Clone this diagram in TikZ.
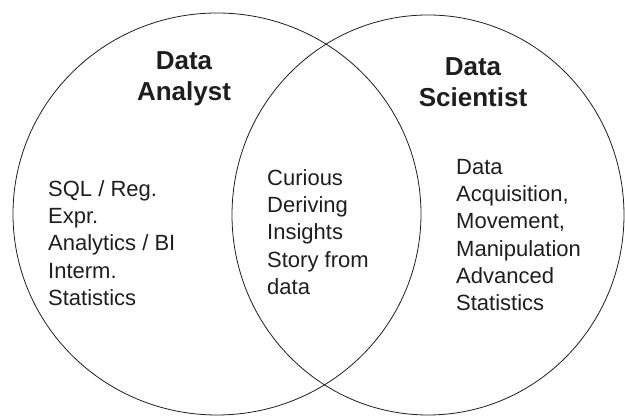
\documentclass[tikz,border=0pt]{standalone}
\usepackage{fontspec}
\setmainfont{Liberation Sans}
\usepackage{xcolor}
\usetikzlibrary{shapes.geometric, positioning}
\definecolor{inkgray}{RGB}{30,30,30}

\begin{document}
\begin{tikzpicture}[
  x=1pt, y=1pt,
  every node/.style={inner sep=0pt, text=inkgray},
  set/.style={ellipse, draw=inkgray, line width=0.8pt},
  title/.style={font=\fontsize{26}{31}\selectfont\bfseries, align=center, anchor=north},
  item/.style={font=\fontsize{22}{27.3}\selectfont, align=left, anchor=north west}
]
\useasboundingbox (0,0) rectangle (625,417);

%--- Sets ---%
\node[set, minimum width=408pt, minimum height=402pt] (analyst)   at (217,203) {};
\node[set, minimum width=392pt, minimum height=400pt] (scientist) at (428,202) {};

%--- Titles ---%
\node[title] (analysttitle)   at (184,366) {Data\\Analyst};
\node[title] (scientisttitle) at (473,360) {Data\\Scientist};

%--- Skills ---%
\node[item] (analystskills) at (48,237)
  {SQL / Reg.\\ Expr.\\ Analytics / BI\\ Interm.\\ Statistics};
\node[item] (sharedskills) at (267,248)
  {Curious\\ Deriving\\ Insights\\ Story from\\ data};
\node[item] (scientistskills) at (456,258)
  {Data\\ Acquisition,\\ Movement,\\ Manipulation\\ Advanced\\ Statistics};

\end{tikzpicture}
\end{document}
